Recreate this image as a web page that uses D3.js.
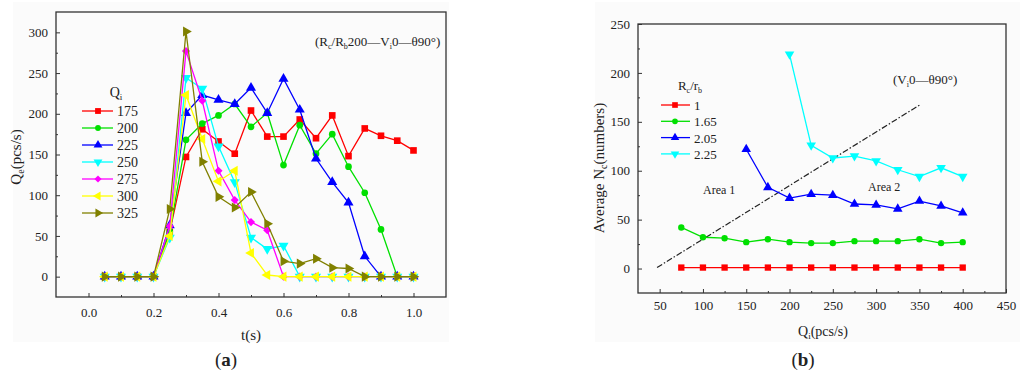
<!DOCTYPE html>
<html>
<head>
<meta charset="utf-8">
<script src="https://cdn.jsdelivr.net/npm/d3@7"></script>
<style>
  body { margin: 0; background: #fff; }
  svg text { font-family: "Liberation Serif", "Times New Roman", serif; fill: #222; }
</style>
</head>
<body>
<div id="chart"></div>
<script>
// ---- panel (a): outflow Qe over time, one series per inflow Qi
var timeSteps = [0.05,0.1,0.15,0.2,0.25,0.3,0.35,0.4,0.45,0.5,0.55,0.6,0.65,0.7,0.75,0.8,0.85,0.9,0.95,1.0];
var qiLabels = ["175","200","225","250","275","300","325"];
var qe175 = [0,0,0,0,55,147,181,166,151,204,172,172,193,170,198,148,182,173,167,155];
var qe200 = [0,0,0,0,55,168,188,198,212,184,201,137,186,151,175,135,103,58,0,0];
var qe225 = [0,0,0,0,63,201,223,217,212,232,201,243,205,145,116,91,25,0,0,0];
var qe250 = [0,0,0,0,48,244,231,160,116,48,34,38,0,0,0,0,0,0,0,0];
var qe275 = [0,0,0,0,62,277,216,130,94,67,57,0,0,0,0,0,0,0,0,0];
var qe300 = [0,0,0,0,50,223,169,117,130,29,2,0,0,0,0,0,0,0,0,0];
var qe325 = [0,0,0,0,83,301,141,98,85,104,65,19,16,22,11,10,0,0,0,0];
var tTicks = [0,0.2,0.4,0.6,0.8,1.0];
var qeTicks = [0,50,100,150,200,250,300];

// ---- panel (b): average Nc against Qi, one series per Rc/rb
var qiSteps = [75,100,125,150,175,200,225,250,275,300,325,350,375,400];
var ratioLabels = ["1","1.65","2.05","2.25"];
var nc1    = [1,1,1,1,1,1,1,1,1,1,1,1,1,1];
var nc165  = [42,32,31,27,30,27,26,26,28,28,28,30,26,27];
var nc205  = [null,null,null,122,83,72,76,75,66,65,61,69,64,57];
var nc225  = [null,null,null,null,null,219,126,113,115,110,101,94,103,94];
var borderLine = [[47,1],[350,167]];
var qiTicks = [50,100,150,200,250,300,350,400,450];
var ncTicks = [0,50,100,150,200,250];

var colors = ["#ff0000","#00e000","#0000ff","#00ffff","#ff00ff","#ffff00","#808000"];
var symbols = ["square", "circle", "up", "down", "diamond", "left", "right"];

var svg = d3.select("#chart").append("svg")
    .attr("width", 1024).attr("height", 381);

svg.append("rect").attr("x", 13).attr("y", 2).attr("width", 436).attr("height", 340).attr("fill", "#fbfbfb");
svg.append("rect").attr("x", 595).attr("y", 2).attr("width", 425).attr("height", 340).attr("fill", "#fbfbfb");

// draws a marker shape centred at 0,0
function marker(g, kind, color, s) {
    if (kind == "up" || kind == "down" || kind == "left" || kind == "right") {
        var rot = {up: 0, down: 180, left: -90, right: 90}[kind];
        g.append("path").attr("d", d3.symbol(d3.symbolTriangle, s * 1.0)())
            .attr("transform", "rotate(" + rot + ")").attr("fill", color);
    } else if (kind == "diamond") {
        g.append("path").attr("d", d3.symbol(d3.symbolSquare, s * 0.75)())
            .attr("transform", "rotate(45)").attr("fill", color);
    } else if (kind == "circle") {
        g.append("path").attr("d", d3.symbol(d3.symbolCircle, s * 0.8)()).attr("fill", color);
    } else {
        g.append("path").attr("d", d3.symbol(d3.symbolSquare, s)()).attr("fill", color);
    }
}

function drawAxes(x, y, xMajor, xMinor, yMajor, yMinor, xFmt, yFmt, xLabY) {
    var x0 = x.range()[0], x1 = x.range()[1], y0 = y.range()[0], y1 = y.range()[1];
    var ax = svg.append("g").attr("transform", "translate(0," + y0 + ")")
        .call(d3.axisBottom(x).tickValues(xMajor).tickSize(-4).tickPadding(xLabY).tickFormat(xFmt));
    svg.append("g").attr("transform", "translate(0," + y0 + ")")
        .call(d3.axisBottom(x).tickValues(xMinor).tickSize(-2).tickFormat(""));
    var ay = svg.append("g").attr("transform", "translate(" + x0 + ",0)")
        .call(d3.axisLeft(y).tickValues(yMajor).tickSize(-4).tickPadding(8).tickFormat(yFmt));
    svg.append("g").attr("transform", "translate(" + x0 + ",0)")
        .call(d3.axisLeft(y).tickValues(yMinor).tickSize(-2).tickFormat(""));
    svg.selectAll(".domain").remove();
    svg.selectAll(".tick line").attr("stroke", "#333").attr("stroke-width", 1);
    ax.selectAll("text").style("font-size", "13px").attr("fill", "#222");
    ay.selectAll("text").style("font-size", "13px").attr("fill", "#222");
    svg.append("rect").attr("x", x0).attr("y", y1).attr("width", x1 - x0).attr("height", y0 - y1)
        .attr("fill", "none").attr("stroke", "#333").attr("stroke-width", 1.3);
}

function drawSeries(x, y, xs, ys, color, kind, s) {
    var pts = xs.map(function(d, i) { return [d, ys[i]]; }).filter(function(p) { return p[1] != null; });
    svg.append("path")
        .attr("d", d3.line().x(function(p) { return x(p[0]); }).y(function(p) { return y(p[1]); })(pts))
        .attr("fill", "none").attr("stroke", color).attr("stroke-width", 1.3);
    pts.forEach(function(p) {
        marker(svg.append("g").attr("transform", "translate(" + x(p[0]) + "," + y(p[1]) + ")"), kind, color, s);
    });
}

// ================= panel (a)
var xA = d3.scaleLinear().domain([-0.1, 1.1]).range([56, 446]);
var yA = d3.scaleLinear().domain([-25, 325]).range([297, 12]);
drawAxes(xA, yA, tTicks, [0.1,0.3,0.5,0.7,0.9], qeTicks, [25,75,125,175,225,275],
    d3.format(".1f"), d3.format("d"), 11);

var seriesA = [qe175, qe200, qe225, qe250, qe275, qe300, qe325];
seriesA.forEach(function(s, i) {
    drawSeries(xA, yA, timeSteps, s, colors[i], symbols[i], 44);
});

// legend (a)
var legA = svg.append("g");
legA.append("text").attr("x", 116).attr("y", 97).attr("text-anchor", "middle").style("font-size", "14px")
    .html('Q<tspan font-size="9" dy="3">i</tspan>');
qiLabels.forEach(function(lab, i) {
    var yy = 111 + i * 17;
    legA.append("line").attr("x1", 82).attr("x2", 113).attr("y1", yy).attr("y2", yy)
        .attr("stroke", colors[i]).attr("stroke-width", 1.3);
    marker(legA.append("g").attr("transform", "translate(98," + yy + ")"), symbols[i], colors[i], 34);
    legA.append("text").attr("x", 117).attr("y", yy + 5).style("font-size", "14px").text(lab);
});

svg.append("text").attr("x", 315).attr("y", 46).style("font-size", "13px")
    .html('(R<tspan font-size="8" dy="3">c</tspan><tspan dy="-3">/R</tspan><tspan font-size="8" dy="3">b</tspan><tspan dy="-3">200—V</tspan><tspan font-size="8" dy="3">i</tspan><tspan dy="-3">0—θ90°)</tspan>');

svg.append("text").attr("x", 251).attr("y", 340).attr("text-anchor", "middle").style("font-size", "15px").text("t(s)");
svg.append("text").attr("transform", "translate(21,157) rotate(-90)").attr("text-anchor", "middle")
    .style("font-size", "15px")
    .html('Q<tspan font-size="10" dy="3">e</tspan><tspan dy="-3">(pcs/s)</tspan>');
svg.append("text").attr("x", 226).attr("y", 366).attr("text-anchor", "middle").style("font-size", "19px")
    .html('(<tspan font-weight="bold">a</tspan>)');

// ================= panel (b)
var xB = d3.scaleLinear().domain([25, 450]).range([638, 1006]);
var yB = d3.scaleLinear().domain([-25, 250]).range([293, 24]);
drawAxes(xB, yB, qiTicks, [75,125,175,225,275,325,375,425], ncTicks, [25,75,125,175,225],
    d3.format("d"), d3.format("d"), 8);

svg.append("line")
    .attr("x1", xB(borderLine[0][0])).attr("y1", yB(borderLine[0][1]))
    .attr("x2", xB(borderLine[1][0])).attr("y2", yB(borderLine[1][1]))
    .attr("stroke", "#222").attr("stroke-width", 1.2).attr("stroke-dasharray", "6,2,1.5,2");

var seriesB = [nc1, nc165, nc205, nc225];
seriesB.forEach(function(s, i) {
    drawSeries(xB, yB, qiSteps, s, colors[i], symbols[i], 40);
});

var legB = svg.append("g");
legB.append("text").attr("x", 690).attr("y", 90).attr("text-anchor", "middle").style("font-size", "13px")
    .html('R<tspan font-size="8" dy="3">c</tspan><tspan dy="-3">/r</tspan><tspan font-size="8" dy="3">b</tspan>');
ratioLabels.forEach(function(lab, i) {
    var yy = 105 + i * 16.3;
    legB.append("line").attr("x1", 661).attr("x2", 690).attr("y1", yy).attr("y2", yy)
        .attr("stroke", colors[i]).attr("stroke-width", 1.3);
    marker(legB.append("g").attr("transform", "translate(675," + yy + ")"), symbols[i], colors[i], 32);
    legB.append("text").attr("x", 694).attr("y", yy + 5).style("font-size", "13px").text(lab);
});

svg.append("text").attr("x", 893).attr("y", 84).style("font-size", "13px")
    .html('(V<tspan font-size="8" dy="3">i</tspan><tspan dy="-3">0—θ90°)</tspan>');
svg.append("text").attr("x", 703).attr("y", 194).style("font-size", "12px").text("Area 1");
svg.append("text").attr("x", 868).attr("y", 191).style("font-size", "12px").text("Area 2");

svg.append("text").attr("x", 823).attr("y", 336).attr("text-anchor", "middle").style("font-size", "14px")
    .html('Q<tspan font-size="9" dy="3">i</tspan><tspan dy="-3">(pcs/s)</tspan>');
svg.append("text").attr("transform", "translate(604,168) rotate(-90)").attr("text-anchor", "middle")
    .style("font-size", "15px")
    .html('Average N<tspan font-size="10" dy="3">c</tspan><tspan dy="-3">(numbers)</tspan>');
svg.append("text").attr("x", 803).attr("y", 366).attr("text-anchor", "middle").style("font-size", "19px")
    .html('(<tspan font-weight="bold">b</tspan>)');
</script>
</body>
</html>
